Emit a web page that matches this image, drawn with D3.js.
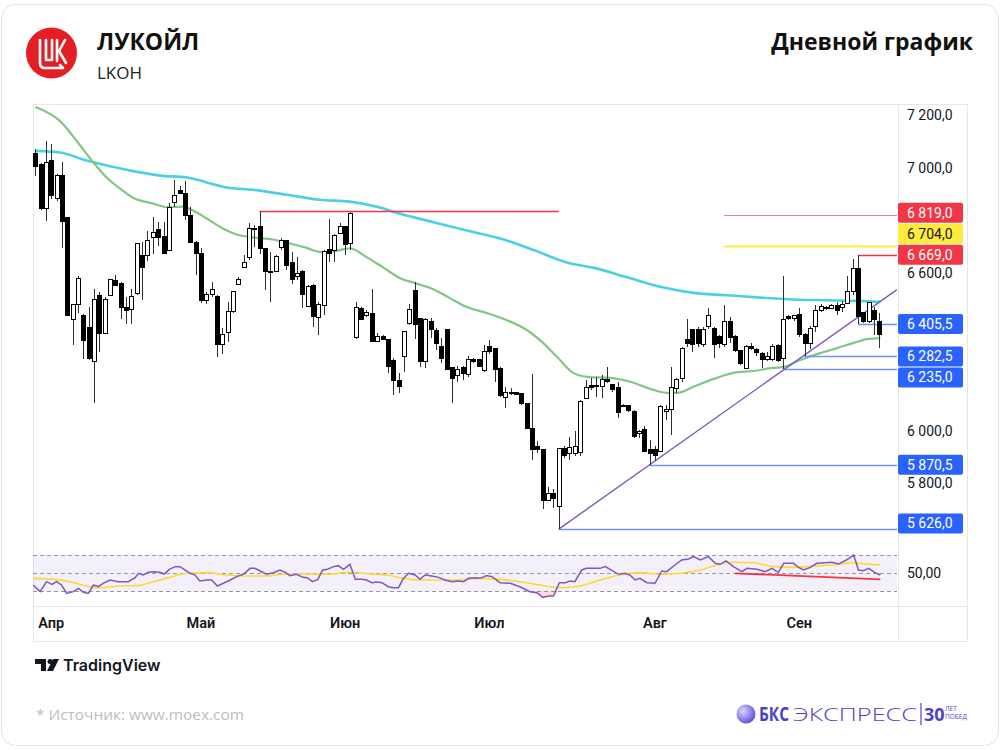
<!DOCTYPE html>
<html><head><meta charset="utf-8">
<script src="https://cdn.jsdelivr.net/npm/d3@7"></script>
<style>html,body{margin:0;padding:0;background:#fff;}svg{display:block;}</style>
</head><body>
<svg id="c" width="1000" height="750"></svg>
<script>
// ---------------- DATA ----------------
const opens  = [7054,7014,6843,7029,6881,6970,6809,6423,6481,6439,6393,6263,6515,6370,6515,6572,6559,6467,6461,6521,
 6667,6667,6736,6765,6739,6685,6869,6915,6903,6818,6717,6675,6496,6519,6511,6329,6372,6452,6557,6622,
 6660,6764,6777,6692,6605,6607,6698,6723,6641,6585,6604,6473,6553,6431,6477,6688,6686,6751,6777,6711,
 6355,6465,6439,6446,6341,6360,6345,6266,6191,6284,6408,6532,6427,6263,6414,6380,6319,6383,6241,6208,
 6241,6212,6269,6269,6229,6322,6313,6237,6128,6145,6147,6140,6105,6010,5941,5928,5736,5761,5711,5931,
 5913,5915,5918,6124,6170,6172,6168,6196,6174,6165,6097,6095,6073,5988,6004,5928,5928,5922,6073,6080,
 6162,6200,6347,6383,6385,6326,6395,6389,6357,6326,6414,6360,6305,6237,6319,6309,6294,6271,6271,6323,
 6275,6436,6426,6443,6364,6332,6395,6458,6467,6466,6477,6468,6484,6528,6616,6448,6414,6458,6414];
const highs  = [7071,7018,7102,7092,6976,7020,6814,6483,6588,6443,6471,6540,6528,6509,6578,6591,6566,6509,6540,6713,
 6717,6761,6814,6793,6793,6865,6953,6932,6951,6850,6720,6696,6528,6566,6515,6389,6490,6531,6585,6667,
 6789,6784,6835,6692,6679,6667,6734,6726,6679,6660,6610,6553,6559,6490,6688,6806,6749,6789,6780,6833,
 6490,6471,6458,6537,6372,6364,6347,6275,6221,6380,6481,6566,6427,6427,6427,6389,6351,6385,6241,6246,
 6246,6284,6275,6271,6326,6345,6313,6241,6168,6162,6149,6143,6107,6216,5960,5931,5787,5779,5934,5941,
 5976,5998,6115,6193,6200,6206,6212,6241,6178,6187,6102,6098,6080,6004,6019,5963,5941,6098,6098,6244,
 6200,6317,6423,6385,6393,6395,6468,6393,6364,6477,6433,6364,6308,6326,6332,6313,6300,6300,6330,6328,
 6587,6440,6441,6465,6370,6398,6477,6480,6476,6480,6490,6492,6587,6654,6669,6452,6490,6471,6448];
const lows   = [6970,6840,6797,6881,6875,6696,6435,6326,6448,6271,6270,6105,6300,6367,6515,6549,6423,6405,6405,6515,
 6496,6645,6670,6704,6673,6683,6850,6900,6802,6717,6591,6486,6483,6509,6281,6292,6338,6448,6553,6620,
 6650,6698,6673,6534,6490,6604,6686,6610,6559,6572,6465,6471,6395,6364,6439,6641,6641,6749,6667,6686,
 6347,6420,6431,6338,6338,6345,6221,6136,6143,6225,6402,6347,6244,6237,6351,6307,6256,6229,6107,6187,
 6193,6206,6259,6241,6225,6292,6187,6128,6086,6136,6135,6099,6006,5888,5915,5703,5732,5707,5626,5897,
 5890,5903,5903,6120,6155,6130,6124,6181,6149,6048,6090,6073,5972,5972,5918,5870.5,5884,5918,6042,5985,
 6143,6187,6317,6300,6319,6319,6385,6275,6313,6319,6332,6300,6250,6233,6307,6284,6238,6266,6266,6263,
 6235,6420,6418,6357,6282.5,6309,6376,6450,6460,6462,6439,6450,6481,6515,6405.5,6410,6408,6364,6313];
const closes = [7004,6843,7018,6894,6970,6797,6437,6481,6578,6342,6275,6499,6370,6499,6574,6553,6467,6458,6509,6711,
 6622,6723,6755,6736,6675,6847,6894,6903,6818,6717,6675,6496,6519,6537,6329,6367,6452,6528,6575,6641,
 6768,6768,6692,6607,6600,6663,6723,6629,6574,6597,6519,6547,6433,6481,6683,6673,6742,6777,6708,6824,
 6468,6424,6448,6338,6357,6347,6244,6191,6168,6376,6461,6405,6263,6423,6383,6330,6275,6234,6200,6234,
 6216,6269,6265,6246,6301,6301,6231,6133,6145,6142,6137,6102,6010,5928,5928,5736,5761,5741,5931,5905,
 5938,5941,6111,6165,6165,6167,6193,6187,6158,6070,6092,6077,5978,5998,5922,5915,5905,6092,6082,6165,
 6196,6313,6332,6326,6330,6383,6439,6326,6330,6414,6355,6304,6256,6319,6311,6297,6269,6281,6319,6266,
 6423,6426,6438,6364,6332,6389,6458,6471,6469,6476,6456,6481,6528,6616,6436,6414,6486,6421,6364];

// moving averages (bar index, value)
const maGreenIdx = [1,5.6,9,11.6,14.4,16.9,19.3,23,25.9,28.6,30.5,33.1,36.1,38.7,41.8,45.5,48.7,51.5,54.3,56.7,59.9,63.1,66.1,69.3,72.1,75.5,78.6,81.8,85.6,89.3,93,96.1,98.7,101.7,104.3,108.6,112.4,116.7,119.3,121.2,124.2,128,131.7,135.5,139.1,141,144.2,147.9,151.1,154.1,156.7,159.2];
const maGreenVal = [7231,7178,7095,7027,6962,6920,6886,6864,6849,6852,6837,6807,6769,6746,6735,6727,6712,6697,6680,6682,6693,6659,6621,6580,6561,6538,6504,6470,6447,6420,6383,6333,6280,6220,6205,6201,6186,6155,6144,6144,6167,6197,6220,6227,6239,6242,6269,6295,6314,6333,6348,6352];
const maCyanIdx = [1,5.6,10.6,14.4,19.3,24.4,29.4,33.1,36.8,41.8,48.1,54.3,59.9,64.9,69.3,75.5,81.8,88.2,94.4,100.5,105.4,111.7,118,124.2,130.5,136.7,142.9,149.2,154.1,159.2];
const maCyanVal = [7064,7058,7027,7008,6987,6970,6963,6944,6925,6916,6897,6878,6871,6852,6825,6793,6761,6730,6686,6640,6620,6584,6547,6524,6515,6506,6499,6496,6494,6490];

// RSI
const rsiIdx = [0.6,1.9,3.1,4.1,5,5.9,6.9,8.1,9.1,10,10.9,11.9,12.8,13.7,15,16.5,18.4,19.7,20.3,21.2,22.2,23.4,24.3,25.1,26.1,27.2,28.1,29,30,30.9,31.8,33.1,34,35.1,36.2,37.5,38.7,40,41.2,42.1,43.1,44.3,45.6,46.8,47.8,48.7,49.9,51.1,51.9,52.9,53.9,54.8,55.7,56.8,57.7,58.7,59.9,60.9,62.1,63,64,64.9,65.9,67.1,68,69,69.9,70.9,72.1,73,74,75.2,76.5,77.7,79,80.2,81.2,82.1,83.3,84.3,85.5,86.5,88,89.9,91.7,93.6,94.9,96,97.1,98,99.1,100.2,101.1,102,103.3,104.2,105.5,106.7,107.7,108.6,110.2,111.4,112.3,113.3,114.2,115.5,117,118.3,119.2,120.5,122,123.3,124.2,125.5,127,128.3,129.2,130.3,131.7,133.3,134.2,136.1,137.6,138.9,140.1,141.1,142.9,143.9,144.8,146.1,147.3,148.9,150.1,151.4,152.9,154.2,155.1,156,157,158.2,159.2];
const rsiVal = [37,29.6,40.7,37.7,40.7,37,27.7,29.6,33.3,28.9,27.7,37,35.1,38.9,42.6,40.7,40.7,45.1,50,48.1,51.1,51.8,51.1,49.2,54.4,57.4,57.4,53.7,50,48.1,41.4,42.6,42.6,35.9,38.9,42.6,46.3,49.2,55.5,55.5,52.6,48.9,50.7,53.7,51.1,47.4,48.9,45.5,45.1,40.7,43.3,53.7,54.4,57.4,58.5,54.4,60,43.3,43.3,42.6,39.6,40.3,39.6,35.1,34,34,44.4,50,48.1,43.3,48.1,47,45.5,42.6,40.7,41.4,40.7,44.4,45.1,44.4,47.4,46.3,39.6,38.9,35.1,29.6,28.5,23.3,24.8,24.8,39.6,39.6,41.4,40.7,53.7,55.5,55.5,55.5,57.4,54.4,48.9,50,48.1,42.6,44.4,39.6,38.9,52.6,51.8,58.1,64.8,65.9,68.5,64.8,68.5,61.1,60,63.7,57.4,51.8,55.5,54.4,51.8,55.5,51.1,61.1,61.1,56.6,53.7,56.6,61.1,61.8,62.2,60.3,64.8,70.3,53.7,52.9,55.5,50.7,48.1];
const rsiMaIdx = [0.6,4.4,7.5,10.6,13.1,16.9,20,23.1,26.2,29.3,33.1,36.8,40.6,44.3,48.1,51.8,55.6,59.9,63.7,66.8,69.9,73,76.8,80.5,84.3,88,91.7,95.5,99.2,103,106.7,110.5,114.2,118,121.7,125.5,128.6,131.7,135.4,139.2,142.9,146.7,150.4,154.2,156.7,159.2];
const rsiMaVal = [44.4,43.3,40.7,35.9,34,35.9,36.3,40.7,45.5,50,50.7,48.1,47,47,49.2,49.2,48.9,51.1,49.2,48.1,44.4,42.6,42.6,42.6,44.4,43.3,40.7,37,34,35.9,42.6,48.1,50.7,48.9,50,53.7,59.2,62.2,61.8,57.4,56.6,58.1,59.2,61.8,60.3,59.2];
const rsiDivIdx = [132, 159.2];
const rsiDivVal = [50, 43.3];

// drawn levels
const levelVal   = [6835, 6819, 6704, 6669, 6405.5, 6282.5, 6235, 5870.5, 5626];
const levelStart = [43, 130, 130, 155, 155, 145, 141, 116, 99];
const levelEnd   = [99, null, null, null, null, null, null, null, null];
const levelKind  = ['red','redThin','yellow','red','blue','blue','blue','blue','blue'];
const priceLabels = [6819, 6704, 6669, 6405.5, 6282.5, 6235, 5870.5, 5626];
const priceLabelKind = ['red','yellow','red','blue','blue','blue','blue','blue'];
const trendIdx = [99, 116];
const trendVal = [5626, 5870.5];

const yTicks = [7200, 7000, 6600, 6000, 5800];
const rsiLevels = [70, 50, 30];
const rsiTickLabels = [50];
const monthLabels = ['Апр','Май','Июн','Июл','Авг','Сен'];
const monthIdx = [4, 32, 59, 86, 117, 144];

// ---------------- DRAW ----------------
const svg = d3.select('#c');
const FONT = "Roboto, 'Noto Sans', 'DejaVu Sans', sans-serif";
const loc = d3.formatLocale({decimal: ',', thousands: ' ', grouping: [3], currency: ['', '']});
const fmtP = loc.format(',.1f');
const fmtR = loc.format('.2f');

const L = 33, R = 897, T = 104, B = 540;
const x = d3.scaleLinear().domain([1, 159]).range([35.3, 879.3]);
const y = d3.scaleLinear().domain([5800, 7200]).range([483.3, 115.1]);
const yr = d3.scaleLinear().domain([30, 70]).range([591.3, 555.3]);
const xMaxIdx = x.invert(R);

// card
svg.append('rect').attr('x', 1.5).attr('y', 4.5).attr('width', 997).attr('height', 741)
  .attr('rx', 14).attr('fill', '#fff').attr('stroke', '#e4e4e4');

// header
svg.append('circle').attr('cx', 51.5).attr('cy', 53).attr('r', 25.5).attr('fill', '#e31e24');
const g0 = svg.append('g').attr('fill', 'none').attr('stroke', '#fff').attr('stroke-width', 2.6)
  .attr('stroke-linejoin', 'round').attr('stroke-linecap', 'round');
g0.append('path').attr('d', 'M40,40 V63 Q40,68 45,68 H63 L60,65');
g0.append('path').attr('d', 'M46,40 V60 H52 V40');
g0.append('path').attr('d', 'M57,40 V61');
g0.append('path').attr('d', 'M65,40 L59,51 L66,63');

svg.append('text').attr('x', 97).attr('y', 50).text('ЛУКОЙЛ')
  .attr('font-family', "'Open Sans', sans-serif").attr('font-weight', 700).attr('font-size', 23).attr('fill', '#111');
svg.append('text').attr('x', 97).attr('y', 79).text('LKOH')
  .attr('font-family', "'Open Sans', sans-serif").attr('font-size', 17).attr('fill', '#222');
svg.append('text').attr('x', 973).attr('y', 50).attr('text-anchor', 'end').text('Дневной график')
  .attr('font-family', "'Open Sans', sans-serif").attr('font-weight', 700).attr('font-size', 23).attr('fill', '#111');

// frame
const frame = svg.append('g').attr('stroke', '#e6e7ea').attr('fill', 'none').attr('shape-rendering', 'crispEdges');
frame.append('rect').attr('x', L).attr('y', T).attr('width', 967 - L).attr('height', 641 - T);
frame.append('line').attr('x1', R + 1).attr('x2', R + 1).attr('y1', T).attr('y2', 641);
frame.append('line').attr('x1', L).attr('x2', 967).attr('y1', 606).attr('y2', 606);

// clip
svg.append('clipPath').attr('id', 'clipMain').append('rect').attr('x', L).attr('y', T).attr('width', R - L).attr('height', B - T);
svg.append('clipPath').attr('id', 'clipRsi').append('rect').attr('x', L).attr('y', 542).attr('width', R - L).attr('height', 63);

const main = svg.append('g').attr('clip-path', 'url(#clipMain)');

// moving averages
const lineGen = d3.line().x(d => x(d[0])).y(d => y(d[1])).curve(d3.curveMonotoneX);
main.append('path').datum(d3.zip(maCyanIdx, maCyanVal)).attr('d', lineGen)
  .attr('fill', 'none').attr('stroke', '#4dd0e1').attr('stroke-width', 2.6);
main.append('path').datum(d3.zip(maGreenIdx, maGreenVal)).attr('d', lineGen)
  .attr('fill', 'none').attr('stroke', '#81c784').attr('stroke-width', 2.2);

// levels
const levelColor = {red: '#f23645', redThin: '#f6808a', yellow: '#ffeb3b', blue: '#6f95f7'};
const levelWidth = {red: 1.3, redThin: 1, yellow: 2, blue: 1.6};
levelVal.forEach((v, i) => {
  const x2 = levelEnd[i] == null ? xMaxIdx : levelEnd[i];
  const k = levelKind[i];
  main.append('line').attr('x1', x(levelStart[i])).attr('x2', x(x2))
    .attr('y1', Math.round(y(v)) + 0.5).attr('y2', Math.round(y(v)) + 0.5)
    .attr('shape-rendering', k === 'redThin' ? 'crispEdges' : 'auto')
    .attr('stroke', levelColor[k]).attr('stroke-width', levelWidth[k]);
});
// trendline, extended to right edge
const slope = (trendVal[1] - trendVal[0]) / (trendIdx[1] - trendIdx[0]);
main.append('line').attr('x1', x(trendIdx[0])).attr('y1', y(trendVal[0]))
  .attr('x2', x(xMaxIdx)).attr('y2', y(trendVal[0] + slope * (xMaxIdx - trendIdx[0])))
  .attr('stroke', '#7e57c2').attr('stroke-width', 1.4);

// candles
const candles = opens.map((o, i) => ({i: i + 1, o, h: highs[i], l: lows[i], c: closes[i]}));
const cg = main.append('g').attr('shape-rendering', 'crispEdges');
cg.selectAll('line.w').data(candles).join('line').attr('class', 'w')
  .attr('x1', d => Math.round(x(d.i)) + 0.5).attr('x2', d => Math.round(x(d.i)) + 0.5)
  .attr('y1', d => y(d.h)).attr('y2', d => y(d.l)).attr('stroke', '#2a2e39').attr('stroke-width', 1);
cg.selectAll('rect.b').data(candles).join('rect').attr('class', 'b')
  .attr('x', d => Math.round(x(d.i)) - 1.5)
  .attr('y', d => y(Math.max(d.o, d.c)))
  .attr('width', 4)
  .attr('height', d => Math.max(1, Math.abs(y(d.o) - y(d.c))))
  .attr('fill', d => d.c >= d.o ? '#fff' : '#000')
  .attr('stroke', '#000').attr('stroke-width', 1);

// price axis tick labels
svg.append('g').selectAll('text').data(yTicks).join('text')
  .attr('x', 907).attr('y', d => y(d)).attr('dy', '0.35em').text(d => fmtP(d))
  .attr('font-family', FONT).attr('font-size', 14).attr('fill', '#131722');

// price labels: overlapping labels are pushed away from the last price
const LH = 21;
const lastPrice = closes[closes.length - 1];
const lab = priceLabels.map((v, i) => ({v, k: priceLabelKind[i], yc: y(v)}));
const above = lab.filter(d => d.v >= lastPrice).sort((a, b) => b.yc - a.yc);
for (let i = 1; i < above.length; i++) if (above[i].yc > above[i - 1].yc - LH) above[i].yc = above[i - 1].yc - LH;
const below = lab.filter(d => d.v < lastPrice).sort((a, b) => a.yc - b.yc);
for (let i = 1; i < below.length; i++) if (below[i].yc < below[i - 1].yc + LH) below[i].yc = below[i - 1].yc + LH;
const maxC = B - 6 - LH / 2;
for (let i = below.length - 1; i >= 0; i--) {
  const lim = i === below.length - 1 ? maxC : below[i + 1].yc - LH;
  if (below[i].yc > lim) below[i].yc = lim;
}
const boxFill = {red: '#f23645', yellow: '#ffeb3b', blue: '#2962ff'};
const boxText = {red: '#fff', yellow: '#131722', blue: '#fff'};
const lg = svg.append('g');
lab.forEach(d => {
  lg.append('rect').attr('x', 898).attr('y', d.yc - LH / 2 + 0.5).attr('width', 65).attr('height', LH - 1)
    .attr('rx', 2).attr('fill', boxFill[d.k]);
  lg.append('text').attr('x', 907).attr('y', d.yc).attr('dy', '0.35em').text(fmtP(d.v))
    .attr('font-family', FONT).attr('font-size', 14).attr('fill', boxText[d.k]);
});

// RSI pane
const rg = svg.append('g').attr('clip-path', 'url(#clipRsi)');
rg.append('rect').attr('x', L).attr('width', R - L).attr('y', yr(70)).attr('height', yr(30) - yr(70))
  .attr('fill', 'rgba(126,87,194,0.09)');
rsiLevels.forEach(v => rg.append('line').attr('x1', L).attr('x2', R)
  .attr('y1', Math.round(yr(v)) + 0.5).attr('y2', Math.round(yr(v)) + 0.5)
  .attr('stroke', '#9598a1').attr('stroke-dasharray', '4,3').attr('stroke-width', 1));
const rsiPts = d3.zip(rsiIdx, rsiVal);
rg.append('path').datum(rsiPts)
  .attr('d', d3.area().x(d => x(d[0])).y0(yr(30)).y1(d => yr(Math.min(d[1], 30))))
  .attr('fill', 'rgba(242,54,69,0.18)');
const rLine = d3.line().x(d => x(d[0])).y(d => yr(d[1]));
rg.append('path').datum(d3.zip(rsiMaIdx, rsiMaVal)).attr('d', rLine.curve(d3.curveMonotoneX))
  .attr('fill', 'none').attr('stroke', '#fdd835').attr('stroke-width', 1.6);
rg.append('path').datum(rsiPts).attr('d', d3.line().x(d => x(d[0])).y(d => yr(d[1])))
  .attr('fill', 'none').attr('stroke', '#7e57c2').attr('stroke-width', 1.5);
rg.append('path').datum(d3.zip(rsiDivIdx, rsiDivVal)).attr('d', d3.line().x(d => x(d[0])).y(d => yr(d[1])))
  .attr('fill', 'none').attr('stroke', '#f23645').attr('stroke-width', 1.8);
svg.append('g').selectAll('text').data(rsiTickLabels).join('text')
  .attr('x', 907).attr('y', d => yr(d)).attr('dy', '0.35em').text(d => fmtR(d))
  .attr('font-family', FONT).attr('font-size', 14).attr('fill', '#131722');

// time axis
svg.append('g').selectAll('text').data(monthIdx).join('text')
  .attr('x', d => x(d)).attr('y', 623).attr('dy', '0.35em').attr('text-anchor', 'middle')
  .text((d, i) => monthLabels[i])
  .attr('font-family', FONT).attr('font-weight', 600).attr('font-size', 14.5).attr('fill', '#131722');

// footer: TradingView mark
const tv = svg.append('g').attr('fill', '#131722');
tv.append('path').attr('d', 'M35,659 H46 V671 H41 V664 H35 Z');
tv.append('circle').attr('cx', 50).attr('cy', 661.5).attr('r', 2.5);
tv.append('path').attr('d', 'M53,659 H59 L53,671 H47 Z');
svg.append('text').attr('x', 63).attr('y', 671).text('TradingView')
  .attr('font-family', "Inter, 'Open Sans', sans-serif").attr('font-weight', 600).attr('font-size', 16).attr('fill', '#131722');

svg.append('text').attr('x', 36).attr('y', 720).text('*  Источник: www.moex.com')
  .attr('textLength', 208).attr('lengthAdjust', 'spacingAndGlyphs')
  .attr('font-family', "'Open Sans', sans-serif").attr('font-size', 15).attr('fill', '#bdbdc2');

// footer: BKS logo
const defs = svg.append('defs');
const gr = defs.append('radialGradient').attr('id', 'bksg').attr('cx', '35%').attr('cy', '35%').attr('r', '70%');
gr.append('stop').attr('offset', '0%').attr('stop-color', '#d9d4ff');
gr.append('stop').attr('offset', '100%').attr('stop-color', '#5b4fd8');
svg.append('circle').attr('cx', 746).attr('cy', 714).attr('r', 9.5).attr('fill', 'url(#bksg)');
svg.append('text').attr('x', 759).attr('y', 721).text('БКС')
  .attr('textLength', 30).attr('lengthAdjust', 'spacingAndGlyphs')
  .attr('font-family', "'Open Sans', sans-serif").attr('font-weight', 700).attr('font-size', 19).attr('fill', '#4b43c7');
svg.append('text').attr('x', 793).attr('y', 721).text('ЭКСПРЕСС')
  .attr('textLength', 124).attr('lengthAdjust', 'spacingAndGlyphs')
  .attr('font-family', "'Open Sans', sans-serif").attr('font-weight', 300).attr('font-size', 19).attr('fill', '#4b43c7');
svg.append('line').attr('x1', 921).attr('x2', 921).attr('y1', 703).attr('y2', 725).attr('stroke', '#4b43c7').attr('stroke-width', 1.2);
svg.append('text').attr('x', 924).attr('y', 721).text('30').attr('font-family', "'Open Sans', sans-serif")
  .attr('font-weight', 700).attr('font-size', 18).attr('fill', '#4b43c7');
svg.append('text').attr('x', 945).attr('y', 711).text('ЛЕТ').attr('font-family', "'Open Sans', sans-serif")
  .attr('font-size', 6.5).attr('fill', '#4b43c7');
svg.append('text').attr('x', 945).attr('y', 719).text('ПОБЕД').attr('font-family', "'Open Sans', sans-serif")
  .attr('font-size', 6.5).attr('fill', '#4b43c7');
</script>
</body></html>
